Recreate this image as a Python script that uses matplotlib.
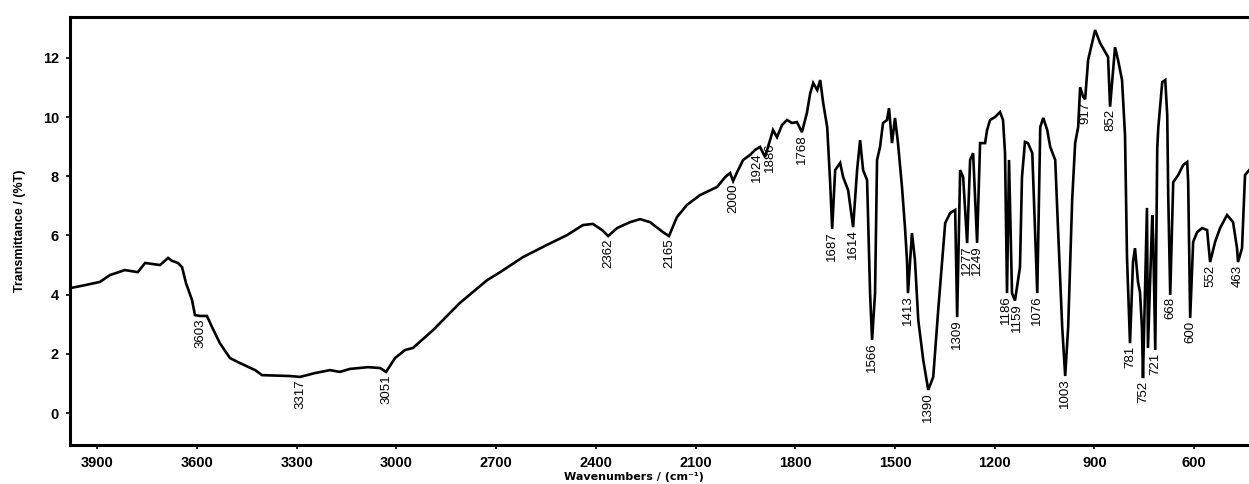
import numpy as np
import matplotlib
matplotlib.use("Agg")
import matplotlib.pyplot as plt

plt.rcParams['font.family'] = ['Liberation Sans', 'DejaVu Sans']

# ---- data ----
wavenumber = [3982, 3937, 3892, 3862, 3817, 3778, 3756, 3711, 3687, 3675, 3657, 3645, 3633, 3615,
              3606, 3591, 3570, 3555, 3531, 3501, 3471, 3425, 3404, 3320, 3290, 3245, 3200, 3170,
              3140, 3085, 3049, 3031, 3004, 2974, 2950, 2890, 2809, 2727, 2688, 2619, 2547, 2487,
              2439, 2409, 2381, 2363, 2336, 2297, 2267, 2237, 2198, 2180, 2156, 2126, 2087, 2035,
              2011, 1996, 1987, 1975, 1957, 1936, 1921, 1906, 1891, 1876, 1867, 1855, 1840, 1825,
              1810, 1795, 1780, 1765, 1755, 1746, 1734, 1725, 1716, 1704, 1695, 1689, 1680, 1665,
              1656, 1641, 1626, 1614, 1605, 1596, 1584, 1575, 1569, 1560, 1554, 1545, 1536, 1524,
              1518, 1509, 1500, 1491, 1479, 1470, 1464, 1461, 1449, 1440, 1430, 1415, 1400, 1385,
              1370, 1358, 1349, 1334, 1319, 1313, 1304, 1295, 1283, 1274, 1265, 1253, 1244, 1229,
              1223, 1214, 1199, 1184, 1175, 1169, 1163, 1157, 1148, 1139, 1124, 1118, 1109, 1100,
              1087, 1072, 1063, 1054, 1042, 1033, 1018, 1009, 997, 988, 979, 967, 958, 949, 943,
              934, 928, 919, 898, 883, 859, 853, 838, 829, 817, 808, 802, 793, 784, 778, 769, 763,
              757, 754, 742, 739, 726, 723, 717, 711, 708, 702, 696, 687, 681, 678, 672, 663, 648,
              633, 621, 618, 612, 603, 591, 576, 561, 552, 537, 522, 501, 483, 471, 468, 456, 447,
              435]
transmittance = [4.22, 4.32, 4.43, 4.66, 4.83, 4.76, 5.07, 5.00, 5.24, 5.14, 5.07, 4.93, 4.39, 3.82,
                 3.31, 3.28, 3.28, 2.91, 2.36, 1.86, 1.69, 1.45, 1.28, 1.25, 1.22, 1.35, 1.45, 1.39,
                 1.49, 1.55, 1.52, 1.39, 1.86, 2.13, 2.20, 2.80, 3.72, 4.49, 4.76, 5.27, 5.68, 6.01,
                 6.35, 6.39, 6.18, 5.98, 6.25, 6.45, 6.55, 6.45, 6.11, 5.98, 6.62, 7.03, 7.36, 7.64,
                 7.97, 8.11, 7.84, 8.14, 8.55, 8.72, 8.89, 8.99, 8.65, 9.22, 9.56, 9.32, 9.73, 9.90,
                 9.80, 9.83, 9.49, 10.14, 10.81, 11.15, 10.91, 11.25, 10.47, 9.66, 7.77, 6.22, 8.21, 8.45,
                 7.97, 7.53, 6.28, 8.21, 9.22, 8.21, 7.87, 4.05, 2.47, 4.05, 8.55, 8.99, 9.80, 9.90,
                 10.30, 9.12, 9.97, 9.12, 7.64, 6.28, 5.17, 4.05, 6.08, 5.17, 3.14, 1.79, 0.78, 1.22,
                 3.48, 5.17, 6.42, 6.76, 6.86, 3.24, 8.21, 7.97, 5.74, 8.55, 8.78, 5.75, 9.12, 9.12,
                 9.56, 9.90, 10.00, 10.17, 9.90, 8.78, 4.05, 8.55, 4.05, 3.80, 4.93, 7.97, 9.16, 9.12,
                 8.78, 4.05, 9.66, 9.97, 9.56, 8.99, 8.55, 6.08, 2.91, 1.25, 2.91, 7.20, 9.12, 9.66, 11.01,
                 10.68, 10.60, 11.93, 12.94, 12.50, 12.03, 10.35, 12.36, 11.93, 11.25, 9.39, 5.24, 2.36,
                 5.10, 5.57, 4.43, 4.09, 2.87, 1.18, 6.93, 2.20, 6.69, 5.78, 2.13, 8.95, 9.63, 10.41,
                 11.18, 11.25, 10.07, 7.36, 3.99, 7.80, 8.04, 8.38, 8.48, 7.80, 3.21, 5.78, 6.11, 6.25,
                 6.18, 5.10, 5.78, 6.25, 6.69, 6.45, 5.57, 5.10, 5.57, 8.04, 8.20]

peak_labels = ["3603", "3317", "3051", "2362", "2165", "2000", "1924", "1886", "1768", "1687",
               "1614", "1566", "1413", "1390", "1309", "1277", "1249", "1186", "1159", "1076",
               "1003", "917", "852", "781", "752", "721", "668", "600", "552", "463"]
peak_pos = [3591, 3290, 3031, 2363, 2180, 1987, 1915, 1876, 1780, 1689,
            1626, 1569, 1461, 1400, 1313, 1283, 1253, 1166, 1134, 1072,
            988, 928, 853, 793, 754, 717, 672, 612, 552, 468]

x_ticks = [3900, 3600, 3300, 3000, 2700, 2400, 2100, 1800, 1500, 1200, 900, 600]
y_ticks = [0, 2, 4, 6, 8, 10, 12]

# ---- figure ----
fig = plt.figure(figsize=(12.49, 4.84), dpi=100)
ax = fig.add_axes([70 / 1249, 1 - 445 / 484, 1 - 70 / 1249, (445 - 17) / 484])

w = np.array(wavenumber, dtype=float)
t = np.array(transmittance, dtype=float)
ax.plot(w, t, color='black', lw=1.9, solid_joinstyle='miter')

for lab, p in zip(peak_labels, peak_pos):
    near = np.abs(w - p) <= 6
    ymin = t[near].min() if near.any() else np.interp(p, w[::-1], t[::-1])
    ax.text(p, ymin - 0.08, lab, rotation=90, ha='center', va='top',
            fontsize=9.5, color='black')

ax.set_xlim(3982, 435)
ax.set_ylim(-1.08, 13.38)
ax.set_xticks(x_ticks)
ax.set_xticklabels([str(v) for v in x_ticks], fontweight='bold', fontsize=10.5)
ax.set_yticks(y_ticks)
ax.set_yticklabels([str(v) for v in y_ticks], fontweight='bold', fontsize=10.5)
ax.tick_params(axis='both', direction='out', length=3, width=1.2, pad=5, colors='black')

for s in ['left', 'bottom', 'top']:
    ax.spines[s].set_linewidth(2.2)
    ax.spines[s].set_color('black')
ax.spines['right'].set_visible(False)

ax.set_xlabel("Wavenumbers / (cm\u207b\u00b9)", fontweight='bold', fontsize=8,
              family=['DejaVu Sans'])
ax.xaxis.set_label_coords((634 - 70) / 1179, -0.063)
ax.set_ylabel("Transmittance / (%T)", fontweight='bold', fontsize=9)
ax.yaxis.set_label_coords(-0.037, 0.5)

fig.savefig("out.png", dpi=100)
